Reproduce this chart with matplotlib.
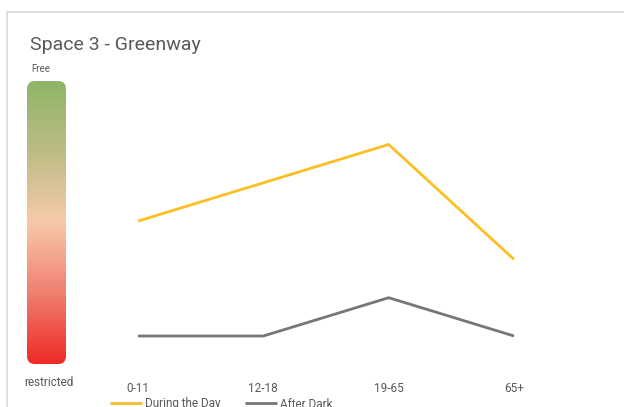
import numpy as np
import matplotlib
matplotlib.use("Agg")
import matplotlib.pyplot as plt
from matplotlib.colors import LinearSegmentedColormap
from matplotlib.patches import FancyBboxPatch, Rectangle

categories = ["0-11", "12-18", "19-65", "65+"]
during_day = [4, 5, 6, 3]
after_dark = [1, 1, 2, 1]
series_names = ["During the Day", "After Dark"]

W, H = 624, 407
plt.rcParams['font.family'] = ['Roboto', 'DejaVu Sans']

def px(x0, y0, x1, y1):
	# pixel box (top-left origin) -> figure fraction rect
	return [x0 / W, 1 - y1 / H, (x1 - x0) / W, (y1 - y0) / H]

fig = plt.figure(figsize=(W / 100, H / 100), dpi=100)

# outer frame (only the top and left edges are visible in the crop)
fig.add_artist(Rectangle((7 / W, -0.1), 1.2, 1 - 12 / H + 0.1, transform=fig.transFigure,
	fill=False, edgecolor="#d9d9d9", linewidth=1.2))

fig.text(30 / W, 1 - 45 / H, "Space 3 - Greenway", fontsize=14, color="#595959", va="center", ha="left")

# colour scale bar
cmap = LinearSegmentedColormap.from_list("free", [
	(0.0, "#8db567"), (0.25, "#bdbc86"), (0.5, "#f7caa9"),
	(0.75, "#f07f70"), (1.0, "#ee2a26")])
bax = fig.add_axes(px(27, 81, 66, 364))
bax.set_xlim(0, 1)
bax.set_ylim(1, 0)
bax.axis("off")
im = bax.imshow(np.linspace(0, 1, 256).reshape(-1, 1), cmap=cmap, aspect="auto", extent=(0, 1, 1, 0))
clip = FancyBboxPatch((0, 0), 1, 1, boxstyle="round,pad=0,rounding_size=0.2",
	mutation_aspect=0.14, transform=bax.transAxes, facecolor="none", edgecolor="none")
bax.add_patch(clip)
im.set_clip_path(clip)
fig.text(41 / W, 1 - 69 / H, "Free", fontsize=7, color="#595959", ha="center", va="center")
fig.text(49 / W, 1 - 382 / H, "restricted", fontsize=8.5, color="#595959", ha="center", va="center")

# line chart
ax = fig.add_axes(px(100.4, 81, 551.6, 364))
x = np.arange(len(categories))
ax.plot(x, during_day, color="#fbbf24", linewidth=2, label=series_names[0], solid_capstyle="butt")
ax.plot(x, after_dark, color="#767676", linewidth=2, label=series_names[1], solid_capstyle="butt")
ax.set_xlim(-0.3, 3.3)
ax.set_ylim(1 - 28 / 38.3, 1 + 255 / 38.3)
ax.set_xticks(x)
ax.set_xticklabels(categories, fontsize=8.5, color="#595959")
ax.tick_params(axis="x", length=0, pad=13)
ax.set_yticks([])
for s in ax.spines.values():
	s.set_visible(False)

ax.legend(loc="center left", bbox_to_anchor=(110 / W, 1 - 404 / H), bbox_transform=fig.transFigure,
	ncol=2, frameon=False, fontsize=8.5, handlelength=2.7, handletextpad=0.25,
	columnspacing=2.1, labelcolor="#595959", borderaxespad=0, borderpad=0)

fig.savefig("out.png", dpi=100)
